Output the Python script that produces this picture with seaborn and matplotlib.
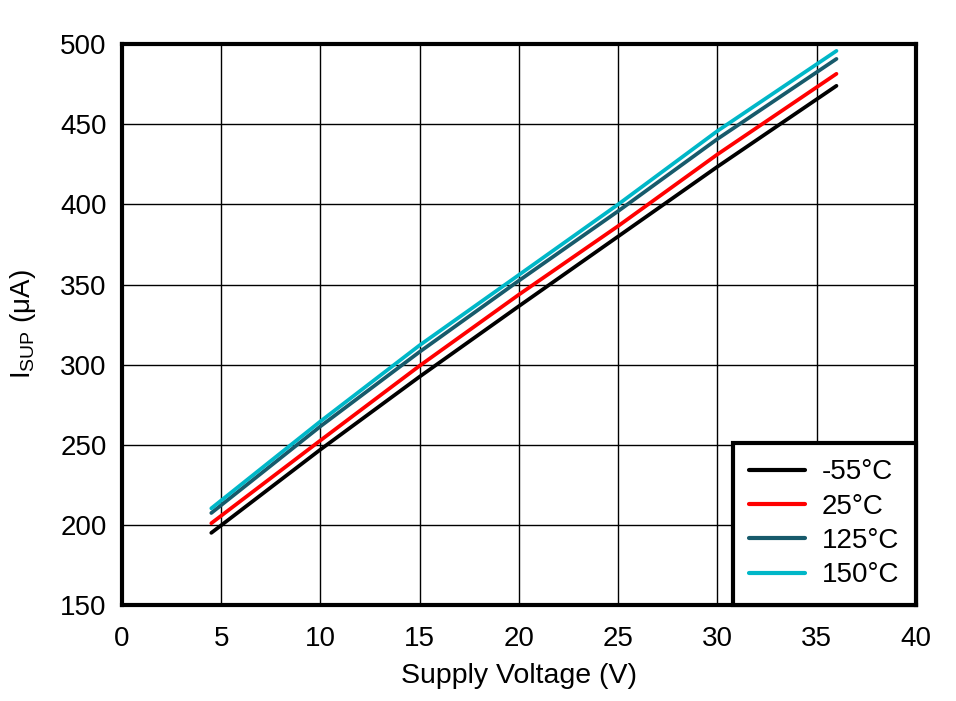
import matplotlib
matplotlib.use("Agg")
import matplotlib.pyplot as plt
import seaborn as sns
import pandas as pd

voltage = [4.5, 10, 15, 20, 25, 30, 36]
isup_m55 = [195.0, 247.0, 292.5, 336.5, 380.0, 423.5, 474.0]
isup_25 = [201.0, 252.7, 299.3, 343.7, 386.5, 431.2, 481.5]
isup_125 = [207.4, 261.5, 308.0, 352.4, 395.8, 440.8, 490.8]
isup_150 = [210.3, 264.6, 312.1, 356.0, 400.0, 445.8, 495.8]
series_labels = ["-55°C", "25°C", "125°C", "150°C"]
colors = ["#000000", "#ff0000", "#175a6b", "#00b7c8"]
x_ticks = [0, 5, 10, 15, 20, 25, 30, 35, 40]
y_ticks = [150, 200, 250, 300, 350, 400, 450, 500]

sns.set_style("white")
plt.rcParams["font.family"] = ["Liberation Sans", "DejaVu Sans"]
plt.rcParams["mathtext.fontset"] = "custom"
plt.rcParams["mathtext.rm"] = "Liberation Sans"
plt.rcParams["mathtext.it"] = "Liberation Sans"
plt.rcParams["text.color"] = "black"
plt.rcParams["axes.labelcolor"] = "black"
plt.rcParams["xtick.color"] = "black"
plt.rcParams["ytick.color"] = "black"

rows = []
for lab, vals in zip(series_labels, [isup_m55, isup_25, isup_125, isup_150]):
    for v, i in zip(voltage, vals):
        rows.append({"V": v, "I": i, "T": lab})
df = pd.DataFrame(rows)

fig = plt.figure(figsize=(9.56, 7.01), dpi=100)
ax = fig.add_axes([0.1276, 0.137, 0.958 - 0.1276, 0.937 - 0.137])

sns.lineplot(data=df, x="V", y="I", hue="T", hue_order=series_labels,
             palette=colors, linewidth=2.7, ax=ax, legend=True)

ax.set_xlim(0, 40)
ax.set_ylim(150, 500)
ax.set_xticks(x_ticks)
ax.set_yticks(y_ticks)
ax.grid(True, color="black", linewidth=1.0)
ax.set_axisbelow(True)
ax.tick_params(axis="both", length=0, labelsize=20)
ax.tick_params(axis="x", pad=15)
ax.tick_params(axis="y", pad=11)
for s in ax.spines.values():
    s.set_linewidth(3)
    s.set_color("black")

ax.set_xlabel("Supply Voltage (V)", fontsize=20.5, labelpad=8)
ax.set_ylabel(r"I$_{\mathrm{SUP}}$ ($\mathrm{\mu}$A)", fontsize=20, labelpad=16)

leg = ax.legend(loc="lower right", fontsize=20, frameon=True, fancybox=False,
                borderaxespad=0, handlelength=2.0, handletextpad=0.6,
                labelspacing=0.3, borderpad=0.6, title=None)
leg.get_frame().set_edgecolor("black")
leg.get_frame().set_linewidth(3)
leg.get_frame().set_alpha(1)
for line in leg.get_lines():
    line.set_linewidth(3)

fig.savefig("out.png", dpi=100)
